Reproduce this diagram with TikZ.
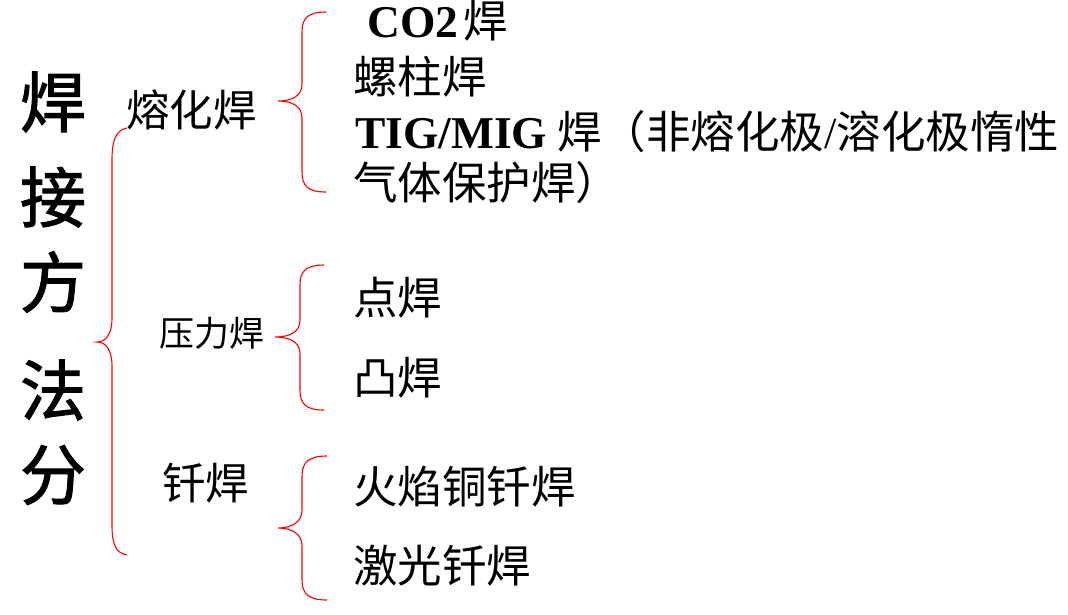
\documentclass[tikz,border=0pt]{standalone}
\usepackage{fontspec}
\setmainfont{Liberation Serif}
\newfontfamily\cjk{Noto Sans CJK SC}
\newfontfamily\cjkbig[FakeBold=1.6]{Noto Sans CJK SC}
\newcommand{\latb}[1]{{\rmfamily\bfseries\fontsize{45.5}{47}\selectfont #1}}
\newcommand{\latr}[1]{{\rmfamily #1}}
\begin{document}
\begin{tikzpicture}[x=1pt,y=-1pt,
  bigchar/.style={inner sep=0pt,anchor=center,font=\cjkbig\fontsize{66}{70}\selectfont},
  cat/.style={inner sep=0pt,anchor=west,font=\cjk\fontsize{43.5}{46}\selectfont},
  catsmall/.style={inner sep=0pt,anchor=west,font=\cjk\fontsize{35}{38}\selectfont},
  item/.style={inner sep=0pt,anchor=west,font=\cjk\fontsize{44.5}{47}\selectfont},
  brace/.style={draw=red,line width=1.1pt}]
\useasboundingbox (0,0) rectangle (1068,614);
\fill[white] (0,0) rectangle (1068,614);
% big vertical title
\node[bigchar] (c1) at (53,102) {焊};
\node[bigchar] (c2) at (53,197) {接};
\node[bigchar] (c3) at (53,282) {方};
\node[bigchar] (c4) at (53,390) {法};
\node[bigchar] (c5) at (53,475) {分};
% categories
\node[cat] (rh) at (126,110) {熔化焊};
\node[catsmall] (yl) at (159,333) {压力焊};
\node[cat] (qh) at (162,483) {钎焊};
% items
\node[item] (co2) at (367,21) {\latb{CO2}\kern5pt 焊};
\node[item] (lz) at (353,77) {螺柱焊};
\node[item] (tig) at (355,132) {\latb{TIG/MIG} 焊（非熔化极\latr{/}溶化极惰性};
\node[item] (qt) at (353,183) {气体保护焊）};
\node[item] (dh) at (353,298) {点焊};
\node[item] (th) at (353,378) {凸焊};
\node[item] (hy) at (353,487) {火焰铜钎焊};
\node[item] (jg) at (353,566) {激光钎焊};
% big brace
\draw[brace] (127,128) .. controls (116,130) and (112,140) .. (112,160)
  -- (112,318) .. controls (112,334) and (106,342) .. (97,342)
  .. controls (106,342) and (112,350) .. (112,366)
  -- (112,525) .. controls (112,545) and (116,553) .. (127,555);
% brace 1
\draw[brace] (326,12) .. controls (308,12) and (302,18) .. (302,32)
  -- (302,84) .. controls (302,96) and (292,101) .. (278,101)
  .. controls (292,101) and (302,106) .. (302,118)
  -- (302,172) .. controls (302,186) and (308,192) .. (326,192);
% brace 2
\draw[brace] (324,265) .. controls (306,265) and (300,271) .. (300,285)
  -- (300,320) .. controls (300,332) and (290,337) .. (275,337)
  .. controls (290,337) and (300,342) .. (300,354)
  -- (300,390) .. controls (300,404) and (306,410) .. (324,410);
% brace 3
\draw[brace] (327,456) .. controls (309,456) and (302,462) .. (302,476)
  -- (302,510) .. controls (302,522) and (292,528) .. (278,528)
  .. controls (292,528) and (302,534) .. (302,546)
  -- (302,580) .. controls (302,594) and (309,600) .. (327,600);
\end{tikzpicture}
\end{document}
